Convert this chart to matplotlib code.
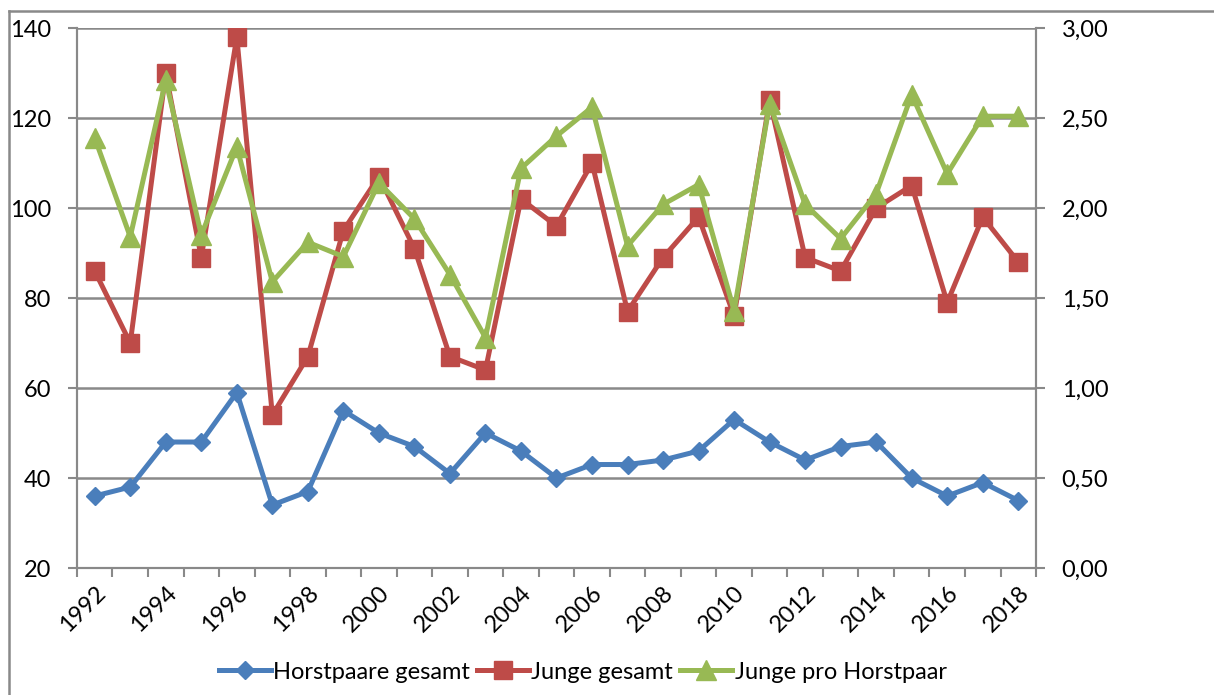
import matplotlib
matplotlib.use("Agg")
import matplotlib.pyplot as plt
from matplotlib.lines import Line2D
from matplotlib.ticker import FuncFormatter

years = list(range(1992, 2019))
horstpaare = [36, 38, 48, 48, 59, 34, 37, 55, 50, 47, 41, 50, 46, 40, 43, 43,
              44, 46, 53, 48, 44, 47, 48, 40, 36, 39, 35]
junge = [86, 70, 130, 89, 138, 54, 67, 95, 107, 91, 67, 64, 102, 96, 110, 77,
         89, 98, 76, 124, 89, 86, 100, 105, 79, 98, 88]
junge_pro_hp = [2.39, 1.84, 2.71, 1.85, 2.34, 1.59, 1.81, 1.73, 2.14, 1.94, 1.63,
                1.28, 2.22, 2.40, 2.56, 1.79, 2.02, 2.13, 1.43, 2.58, 2.02, 1.83,
                2.08, 2.63, 2.19, 2.51, 2.51]

blue = "#4A7EBB"
red = "#BE4B48"
green = "#98B954"
grey = "#898989"

plt.rcParams['font.family'] = ['Lato', 'DejaVu Sans']

fig = plt.figure(figsize=(12.14, 6.95), dpi=100)
ax = fig.add_axes([0.0634, 0.1827, 0.79, 0.777])
ax2 = ax.twinx()

x = list(range(len(years)))
ax.plot(x, horstpaare, color=blue, lw=3.6, marker="D", ms=9.5, zorder=3)
ax.plot(x, junge, color=red, lw=3.6, marker="s", ms=13, zorder=4)
ax2.plot(x, junge_pro_hp, color=green, lw=3.6, marker="^", ms=15, zorder=5)

ax.set_xlim(-0.5, len(years) - 0.5)
ax.set_ylim(20, 140)
ax2.set_ylim(0, 3)
ax.set_yticks(range(20, 141, 20))
ax2.set_yticks([0, 0.5, 1, 1.5, 2, 2.5, 3])
ax2.yaxis.set_major_formatter(FuncFormatter(lambda v, p: f"{v:.2f}".replace(".", ",")))

# year labels at category centres, tick marks at boundaries
ax.set_xticks([i for i, y in enumerate(years) if y % 2 == 0])
ax.set_xticklabels([str(y) for y in years if y % 2 == 0], rotation=45,
                   ha="right", va="top", rotation_mode="anchor")
ax.set_xticks([i - 0.5 for i in range(len(years) + 1)], minor=True)
ax.tick_params(axis="x", which="major", length=0, pad=10, labelsize=17)
ax.tick_params(axis="x", which="minor", length=6.5, width=1.5, color=grey, direction="out")
ax.tick_params(axis="y", length=6.5, width=1.5, color=grey, pad=12, labelsize=17)
ax2.tick_params(axis="y", length=6.5, width=1.5, color=grey, pad=12, labelsize=17)

ax.yaxis.grid(True, color=grey, lw=1.8)
ax.set_axisbelow(True)
for a in (ax, ax2):
    a.spines["top"].set_visible(False)
    for s in ("left", "right", "bottom"):
        a.spines[s].set_color(grey)
        a.spines[s].set_linewidth(1.5)
ax2.patch.set_visible(False)

handles = [
    Line2D([], [], color=blue, lw=3.6, marker="D", ms=9.5),
    Line2D([], [], color=red, lw=3.6, marker="s", ms=13),
    Line2D([], [], color=green, lw=3.6, marker="^", ms=15),
]
fig.legend(handles, ["Horstpaare gesamt", "Junge gesamt", "Junge pro Horstpaar"],
           loc="center", bbox_to_anchor=(0.48, 0.033), ncol=3, frameon=False,
           fontsize=17, handlelength=2.2, handletextpad=0.1, columnspacing=0.3)

# outer chart frame (partly cropped in the original)
fig.add_artist(Line2D([9 / 1214, 1], [1 - 11 / 695, 1 - 11 / 695], color=grey, lw=1.8,
                      transform=fig.transFigure))
fig.add_artist(Line2D([9 / 1214, 9 / 1214], [0, 1 - 11 / 695], color=grey, lw=1.8,
                      transform=fig.transFigure))

fig.savefig("out.png", dpi=100)
